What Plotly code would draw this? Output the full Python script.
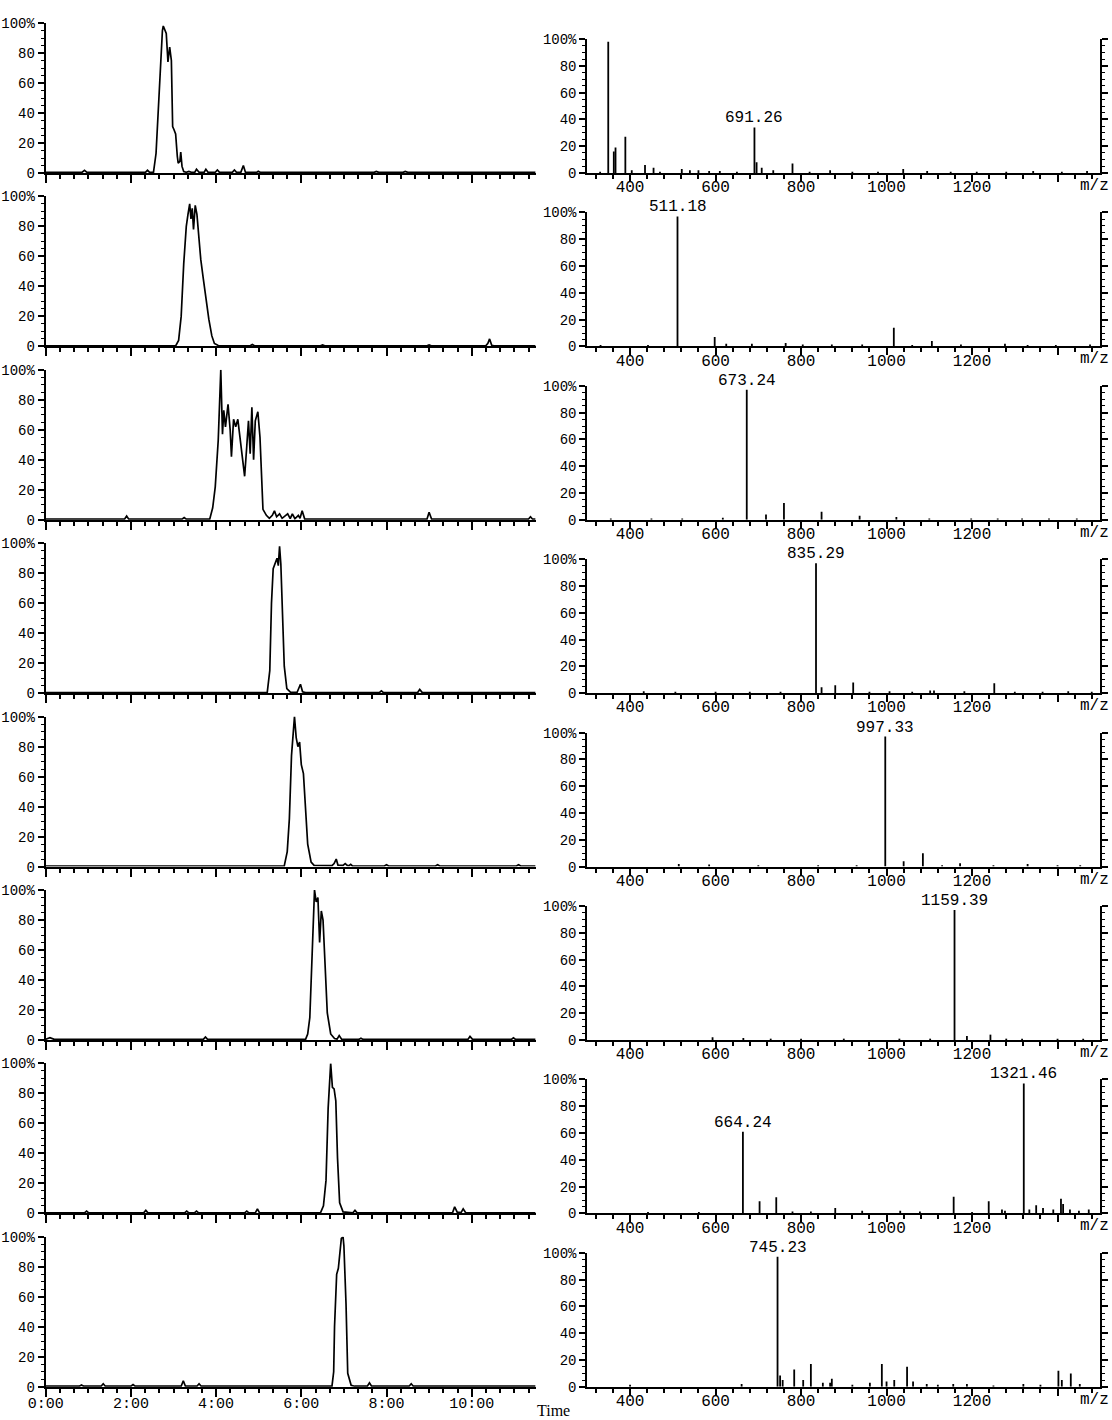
import plotly.graph_objects as go

# ---------------- data ----------------
TIME_TICKS = [0, 2, 4, 6, 8, 10]
TIME_LABELS = ["0:00", "2:00", "4:00", "6:00", "8:00", "10:00"]
MZ_TICKS = [400, 600, 800, 1000, 1200, 1400]
MZ_LABELS = ["400", "600", "800", "1000", "1200", ""]
PCT_TICKS = [0, 20, 40, 60, 80, 100]
PCT_LABELS = ["0", "20", "40", "60", "80", "100%"]

# chromatograms: (time in min, relative intensity %)
chrom1 = [(0, 0.4), (0.85, 0.4), (0.91, 1.8), (0.97, 0.4), (2.34, 0.4), (2.39, 1.8), (2.44, 0.4),
          (2.53, 0.5), (2.59, 13), (2.64, 42), (2.7, 73), (2.74, 95), (2.76, 98), (2.83, 93), (2.87, 74),
          (2.91, 84), (2.95, 75), (2.98, 31), (3.01, 29), (3.05, 26), (3.09, 11), (3.11, 6.6), (3.15, 7.7),
          (3.17, 14), (3.2, 4.4), (3.24, 1), (3.3, 0.5), (3.36, 1), (3.42, 0.5), (3.5, 0.5), (3.54, 2.5),
          (3.6, 0.5), (3.72, 0.5), (3.76, 2.5), (3.81, 0.5), (3.98, 0.5), (4.03, 2), (4.08, 0.4), (4.38, 0.4),
          (4.43, 2), (4.48, 0.4), (4.58, 0.4), (4.64, 5), (4.69, 0.4), (4.95, 0.4), (4.99, 1.2), (5.04, 0.4),
          (7.71, 0.4), (7.76, 1), (7.82, 0.4), (8.39, 0.4), (8.44, 1), (8.5, 0.4), (11.5, 0.4)]
chrom2 = [(0, 0.4), (3.05, 0.4), (3.12, 4), (3.18, 20), (3.24, 55), (3.3, 80), (3.34, 88), (3.38, 95),
          (3.41, 85), (3.44, 92), (3.47, 78), (3.51, 94), (3.55, 88), (3.59, 72), (3.64, 58), (3.7, 45),
          (3.76, 32), (3.83, 18), (3.9, 7), (3.96, 2), (4.05, 0.6), (4.8, 0.4), (4.85, 1.2), (4.9, 0.4),
          (6.45, 0.4), (6.5, 1.0), (6.55, 0.4), (8.95, 0.4), (9.0, 1.0), (9.05, 0.4), (10.33, 0.4),
          (10.38, 2), (10.42, 5), (10.47, 0.8), (10.52, 0.4), (11.5, 0.4)]
chrom3 = [(0, 0.4), (1.85, 0.4), (1.9, 2.5), (1.95, 0.4), (3.2, 0.4), (3.25, 1.5), (3.3, 0.4),
          (3.85, 0.4), (3.92, 8), (3.98, 22), (4.05, 53), (4.11, 100), (4.15, 57), (4.18, 73), (4.22, 62),
          (4.28, 77), (4.33, 60), (4.36, 42), (4.41, 67), (4.46, 62), (4.51, 67), (4.55, 57), (4.61, 44),
          (4.67, 29), (4.72, 49), (4.76, 66), (4.8, 44), (4.84, 75), (4.88, 40), (4.92, 66), (4.98, 72),
          (5.03, 55), (5.1, 7), (5.18, 3), (5.25, 1), (5.32, 3), (5.37, 6), (5.42, 2), (5.49, 4), (5.55, 1),
          (5.68, 4), (5.74, 0.8), (5.79, 4), (5.85, 0.7), (5.93, 3), (5.97, 1), (6.02, 6), (6.08, 0.5),
          (8.95, 0.4), (9.0, 5), (9.06, 0.4), (11.33, 0.4), (11.38, 2), (11.43, 0.4), (11.5, 0.4)]
chrom4 = [(0, 0.4), (5.2, 0.4), (5.26, 15), (5.3, 60), (5.34, 83), (5.38, 86), (5.43, 90), (5.46, 85),
          (5.49, 98), (5.52, 86), (5.56, 56), (5.6, 18), (5.66, 3), (5.75, 0.5), (5.9, 0.5), (5.94, 3),
          (5.98, 6), (6.03, 1), (6.1, 0.4), (7.83, 0.4), (7.88, 1.5), (7.93, 0.4), (8.73, 0.4), (8.78, 2.5),
          (8.84, 0.4), (11.5, 0.4)]
chrom5 = [(0, 0.4), (5.6, 0.4), (5.67, 10), (5.72, 32), (5.77, 74), (5.81, 92), (5.84, 100), (5.88, 86),
          (5.92, 80), (5.96, 83), (6.0, 68), (6.05, 62), (6.1, 38), (6.15, 15), (6.23, 3), (6.3, 0.8),
          (6.72, 0.6), (6.77, 2), (6.82, 5), (6.86, 1), (6.98, 0.8), (7.03, 2), (7.08, 0.8), (7.12, 0.6),
          (7.16, 1.5), (7.2, 0.5), (7.95, 0.4), (8.0, 1.2), (8.05, 0.4), (9.15, 0.4), (9.2, 1.2), (9.25, 0.4),
          (11.05, 0.4), (11.1, 1.2), (11.15, 0.4), (11.5, 0.4)]
chrom6 = [(0, 0.5), (0.1, 1.5), (0.2, 0.4), (3.7, 0.4), (3.75, 2), (3.8, 0.4), (6.1, 0.4), (6.15, 4),
          (6.2, 15), (6.25, 55), (6.28, 83), (6.31, 100), (6.35, 92), (6.39, 95), (6.43, 65), (6.47, 86),
          (6.51, 80), (6.56, 50), (6.61, 18), (6.69, 4), (6.78, 1), (6.84, 0.6), (6.89, 3), (6.95, 0.4),
          (7.35, 0.4), (7.4, 1.2), (7.45, 0.4), (9.91, 0.4), (9.96, 2.4), (10.02, 0.4), (10.93, 0.4),
          (10.98, 1.5), (11.03, 0.4), (11.5, 0.4)]
chrom7 = [(0, 0.4), (0.91, 0.4), (0.96, 1.5), (1.01, 0.4), (2.3, 0.4), (2.35, 2), (2.4, 0.4), (3.26, 0.4),
          (3.31, 1.5), (3.36, 0.4), (3.49, 0.4), (3.54, 1.5), (3.59, 0.4), (4.67, 0.4), (4.72, 1.5),
          (4.77, 0.4), (4.92, 0.4), (4.97, 3), (5.02, 0.4), (6.45, 0.4), (6.52, 5), (6.58, 22), (6.63, 70),
          (6.69, 100), (6.73, 84), (6.77, 83), (6.81, 75), (6.85, 37), (6.9, 7), (6.98, 1), (7.21, 0.4),
          (7.26, 2), (7.31, 0.4), (9.55, 0.4), (9.6, 4.4), (9.66, 0.8), (9.75, 0.5), (9.8, 3), (9.86, 0.4),
          (11.5, 0.4)]
chrom8 = [(0, 0.4), (0.79, 0.4), (0.84, 1.2), (0.89, 0.4), (1.3, 0.4), (1.35, 2), (1.4, 0.4), (2.0, 0.4),
          (2.05, 1.5), (2.1, 0.4), (3.18, 0.4), (3.23, 4), (3.28, 0.4), (3.55, 0.4), (3.6, 2), (3.65, 0.4),
          (6.72, 0.4), (6.76, 10), (6.78, 40), (6.8, 55), (6.83, 75), (6.87, 79), (6.9, 90), (6.94, 99),
          (6.98, 100), (7.0, 94), (7.05, 55), (7.09, 9), (7.17, 1), (7.25, 0.4), (7.55, 0.4), (7.6, 2.6),
          (7.65, 0.4), (8.53, 0.4), (8.58, 2), (8.63, 0.4), (11.5, 0.4)]

# mass spectra: (m/z, relative abundance %)
spec1 = [(330, 1), (349, 98), (362, 16), (366, 19), (389, 27), (404, 2), (435, 6), (455, 4), (470, 1),
         (521, 3), (540, 2), (560, 2), (585, 1.5), (610, 1.5), (650, 1), (691, 34), (696, 8), (708, 4),
         (735, 2), (780, 7), (820, 1), (868, 2), (920, 1), (980, 1), (1039, 3), (1095, 1.5), (1150, 1),
         (1211, 1), (1280, 1), (1343, 1.5), (1410, 1), (1469, 1.5)]
spec2 = [(331, 1), (442, 1), (511, 97), (598, 7), (625, 2), (685, 2), (764, 2.5), (804, 1.5), (872, 1.5),
         (943, 1.5), (1017, 14), (1060, 1), (1106, 4), (1174, 1.5), (1277, 2), (1330, 1), (1396, 1),
         (1476, 1.5)]
spec3 = [(355, 1), (450, 1), (522, 1), (617, 1.5), (673, 97), (718, 4), (760, 12.5), (848, 6), (937, 3),
         (1023, 2), (1100, 1), (1198, 1), (1260, 1), (1317, 1), (1380, 1), (1445, 1)]
spec4 = [(432, 1.5), (506, 1), (600, 1), (680, 1), (752, 1), (835, 97), (848, 4.5), (880, 6), (922, 8),
         (960, 1), (1007, 1.5), (1060, 1), (1102, 2), (1111, 2), (1182, 1.5), (1252, 7.5), (1300, 1),
         (1365, 1), (1425, 1.5), (1480, 1)]
spec5 = [(514, 2), (585, 1.5), (700, 1), (840, 1), (930, 1), (997, 97), (1040, 4), (1085, 10), (1130, 1),
         (1172, 2.5), (1250, 1), (1330, 2), (1400, 1), (1453, 1)]
spec6 = [(593, 2), (665, 1.5), (729, 1), (800, 1), (900, 1), (1030, 1), (1102, 1), (1159, 97), (1188, 3),
         (1243, 4), (1280, 1), (1317, 1), (1400, 1), (1460, 1)]
spec7 = [(442, 1), (561, 1), (664, 61), (703, 9), (742, 12), (780, 1.5), (823, 1.5), (880, 4), (943, 2),
         (1032, 2), (1078, 1.5), (1157, 12.5), (1200, 1), (1239, 9), (1270, 3), (1277, 2), (1321, 97),
         (1334, 3), (1350, 6), (1366, 4), (1390, 3), (1408, 11), (1413, 7), (1429, 3), (1450, 2), (1473, 3)]
spec8 = [(400, 1.5), (661, 2), (745, 97), (751, 8.5), (757, 5), (784, 13), (805, 5), (823, 17), (851, 3),
         (868, 3), (872, 6), (920, 1.5), (961, 3), (989, 17), (1000, 4), (1018, 5), (1048, 15), (1062, 4),
         (1094, 2), (1120, 1.5), (1156, 2), (1188, 2), (1250, 1), (1320, 2), (1360, 1.5), (1402, 12),
         (1410, 5), (1431, 10), (1452, 2)]

# labelled peaks: row, label text, m/z of the stick it sits on
LABEL_ROW = [1, 2, 3, 4, 5, 6, 7, 7, 8]
LABEL_TEXT = ["691.26", "511.18", "673.24", "835.29", "997.33", "1159.39", "664.24", "1321.46", "745.23"]
LABEL_MZ = [691, 511, 673, 835, 997, 1159, 664, 1321, 745]

CHROMS = [chrom1, chrom2, chrom3, chrom4, chrom5, chrom6, chrom7, chrom8]
SPECS = [spec1, spec2, spec3, spec4, spec5, spec6, spec7, spec8]

# ---------------- layout geometry (pixels) ----------------
W, H = 1112, 1420
ROW0_BASE = 173.0
ROW_STEP = 173.4
LEFT_X0, LEFT_X1 = 45.7, 535.6
RIGHT_X0, RIGHT_X1 = 587.3, 1100.3
LEFT_H, RIGHT_H = 150.0, 134.0

MONO = "Liberation Mono"
BLACK = "#000000"

fig = go.Figure()
layout = {}
annotations = []


def axis_common():
    return dict(showline=True, linecolor=BLACK, linewidth=2, ticks="outside", tickcolor=BLACK,
                tickwidth=1.5, showgrid=False, zeroline=False, fixedrange=True, automargin=False,
                tickfont=dict(family=MONO, size=14, color=BLACK))


for k in range(8):
    base = ROW0_BASE + ROW_STEP * k
    li, ri = 2 * k + 1, 2 * k + 2
    lx, ly = ("x" if li == 1 else f"x{li}"), ("y" if li == 1 else f"y{li}")
    rx, ry = f"x{ri}", f"y{ri}"

    ct = [p[0] for p in CHROMS[k]]
    ci = [p[1] for p in CHROMS[k]]
    fig.add_trace(go.Scatter(x=ct, y=ci, mode="lines", xaxis=lx, yaxis=ly,
                             line=dict(color=BLACK, width=1.7), hoverinfo="skip"))

    sx, sy = [], []
    for mz, inten in SPECS[k]:
        sx += [mz, mz, None]
        sy += [0, inten, None]
    fig.add_trace(go.Scatter(x=sx, y=sy, mode="lines", xaxis=rx, yaxis=ry,
                             line=dict(color=BLACK, width=1.8), hoverinfo="skip"))

    # left axes (chromatogram)
    xa = axis_common()
    xa.update(domain=[LEFT_X0 / W, LEFT_X1 / W], range=[0, 11.5], anchor=ly,
              tickvals=TIME_TICKS, ticktext=TIME_LABELS if k == 7 else [""] * len(TIME_TICKS),
              ticklen=8, ticklabelstandoff=-7, tickfont=dict(family=MONO, size=15, color=BLACK),
              minor=dict(tick0=0, dtick=1 / 3, ticks="outside", ticklen=4, tickcolor=BLACK, tickwidth=1.5))
    ya = axis_common()
    ya.update(domain=[1 - base / H, 1 - (base - LEFT_H) / H], range=[0, 100], anchor=lx,
              tickvals=PCT_TICKS, ticktext=PCT_LABELS, ticklen=6,
              minor=dict(dtick=5, ticks="outside", ticklen=3, tickcolor=BLACK, tickwidth=1.2))
    layout["xaxis" if li == 1 else f"xaxis{li}"] = xa
    layout["yaxis" if li == 1 else f"yaxis{li}"] = ya

    # right axes (mass spectrum)
    xb = axis_common()
    xb.update(domain=[RIGHT_X0 / W, RIGHT_X1 / W], range=[300, 1500], anchor=ry,
              tickvals=MZ_TICKS, ticktext=MZ_LABELS, ticklen=7, ticklabelstandoff=-9,
              tickfont=dict(family=MONO, size=16, color=BLACK),
              minor=dict(tick0=0, dtick=40, ticks="outside", ticklen=4, tickcolor=BLACK, tickwidth=1.5))
    yb = axis_common()
    yb.update(domain=[1 - base / H, 1 - (base - RIGHT_H) / H], range=[0, 100], anchor=rx,
              tickvals=PCT_TICKS, ticktext=PCT_LABELS, ticklen=6, mirror="ticks",
              minor=dict(dtick=5, ticks="outside", ticklen=3, tickcolor=BLACK, tickwidth=1.2))
    layout[f"xaxis{ri}"] = xb
    layout[f"yaxis{ri}"] = yb

    annotations.append(dict(text="m/z", xref="paper", yref="paper", x=1094 / W, y=1 - (base + 13) / H,
                            xanchor="center", yanchor="middle", showarrow=False,
                            font=dict(family=MONO, size=16, color=BLACK)))

for row, text, mz in zip(LABEL_ROW, LABEL_TEXT, LABEL_MZ):
    inten = dict(SPECS[row - 1])[mz]
    ri = 2 * row
    annotations.append(dict(text=text, xref=f"x{ri}", yref=f"y{ri}", x=mz, y=inten,
                            xanchor="center", yanchor="bottom", showarrow=False, yshift=-2,
                            font=dict(family=MONO, size=16, color=BLACK)))

annotations.append(dict(text="Time", xref="paper", yref="paper", x=553 / W, y=1 - 1410 / H,
                        xanchor="center", yanchor="middle", showarrow=False,
                        font=dict(family="Liberation Serif", size=16, color=BLACK)))

fig.update_layout(width=W, height=H, margin=dict(l=0, r=0, t=0, b=0, autoexpand=False), showlegend=False,
                  paper_bgcolor="white", plot_bgcolor="white", annotations=annotations, **layout)

# the page's default 8px body margin would shift the figure; remove it
fig.write_html("out.html", config={"displayModeBar": False},
               post_script="document.body.style.margin='0';document.body.style.overflow='hidden';")
